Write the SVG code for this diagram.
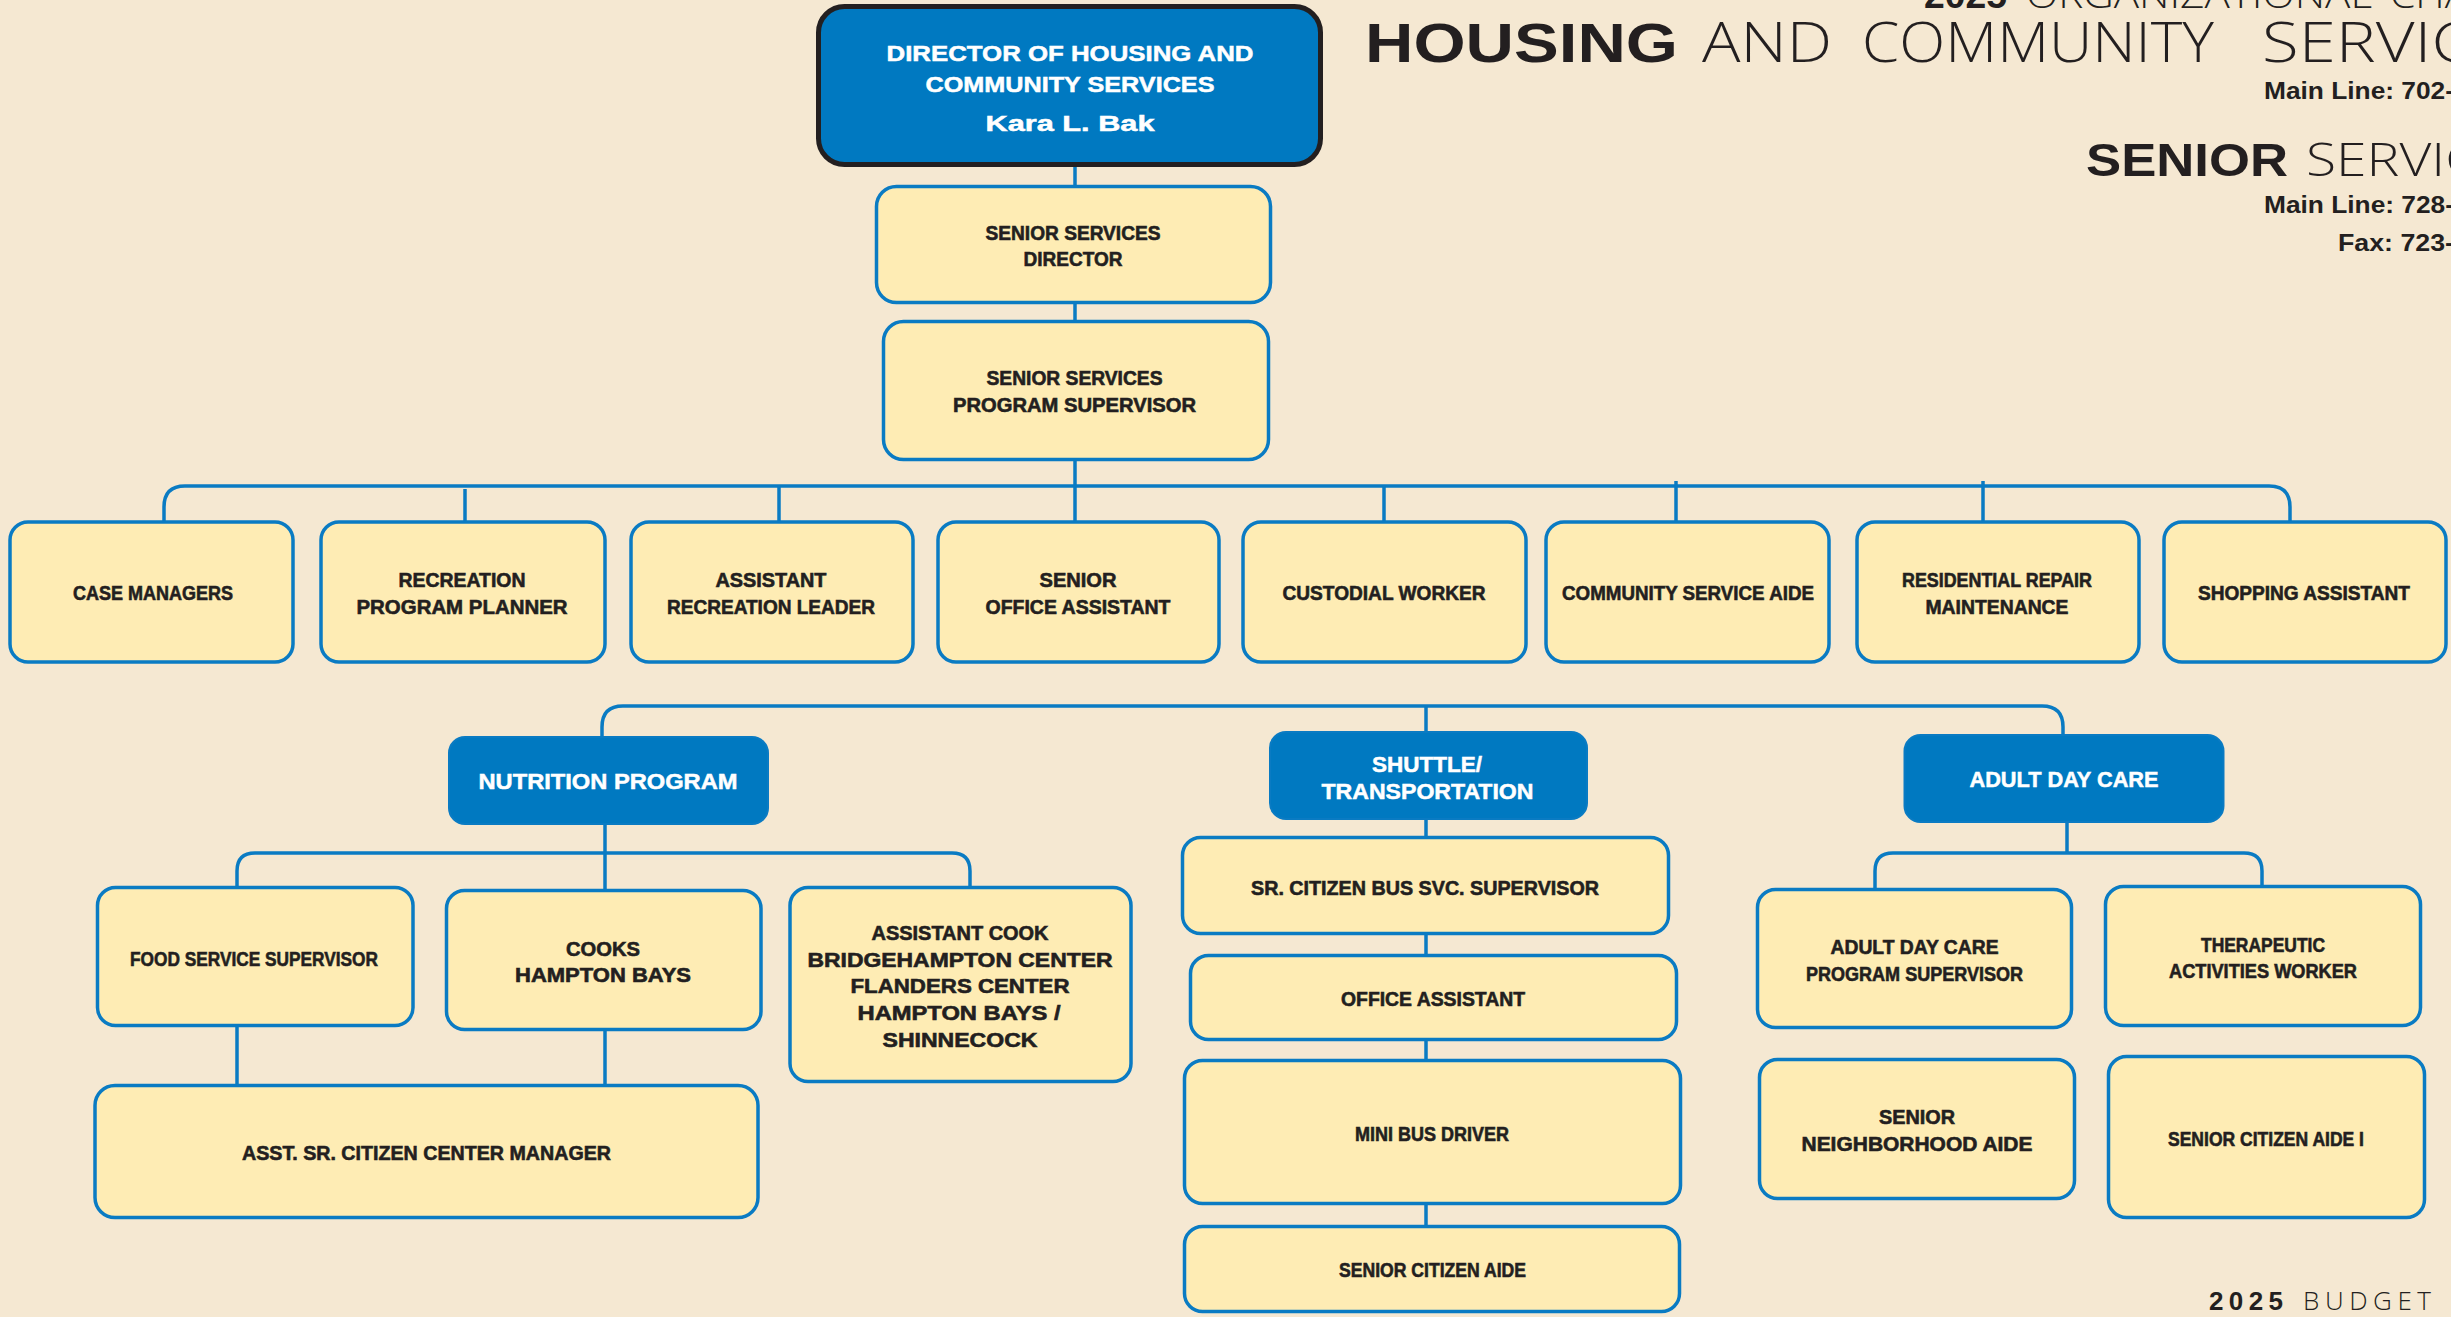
<svg xmlns="http://www.w3.org/2000/svg" width="2451" height="1317" viewBox="0 0 2451 1317">
  <defs>
    <style>
      .bg { fill: #f5e8d2; }
      .box { fill: #feecb4; stroke: #0a7bc3; stroke-width: 3.5; }
      .blue { fill: #0079c1; stroke: #0a7bc3; stroke-width: 2; }
      .top { fill: #0079c1; stroke: #231f20; stroke-width: 5; }
      .conn { fill: none; stroke: #0a7bc3; stroke-width: 3.5; }
      .lbl { font-family: "Liberation Sans", Arial, sans-serif; font-weight: 700; font-size: 20px; fill: #231f20; stroke: #231f20; stroke-width: 0.6; text-anchor: middle; }
      .wlbl { font-family: "Liberation Sans", Arial, sans-serif; font-weight: 700; font-size: 22px; fill: #ffffff; stroke: #ffffff; stroke-width: 0.5; text-anchor: middle; }
      .hb { font-family: "Liberation Sans", Arial, sans-serif; font-weight: 700; fill: #231f20; }
      .hl { font-family: "Open Sans", "Lato", "Liberation Sans", sans-serif; font-weight: 300; fill: #231f20; }
    </style>
  </defs>

  <rect class="bg" x="0" y="0" width="2451" height="1317"/>

  <!-- page heading (runs past the right edge) -->
  <g id="heading">
    <text class="hb" x="1924" y="8" font-size="36" textLength="83" lengthAdjust="spacingAndGlyphs">2025</text>
    <text class="hl" x="2026" y="8" font-size="36" textLength="346" lengthAdjust="spacingAndGlyphs">ORGANIZATIONAL</text>
    <text class="hl" x="2390" y="8" font-size="36" textLength="125" lengthAdjust="spacingAndGlyphs">CHART</text>

    <text class="hb" x="1365" y="62" font-size="56" textLength="313" lengthAdjust="spacingAndGlyphs">HOUSING</text>
    <text class="hl" x="1702" y="62" font-size="56" textLength="130" lengthAdjust="spacingAndGlyphs">AND</text>
    <text class="hl" x="1862" y="62" font-size="56" textLength="352" lengthAdjust="spacingAndGlyphs">COMMUNITY</text>
    <text class="hl" x="2262" y="62" font-size="56" textLength="285" lengthAdjust="spacingAndGlyphs">SERVICES</text>
    <text class="hb" x="2264" y="99" font-size="24" textLength="190" lengthAdjust="spacingAndGlyphs">Main Line: 702-</text>

    <text class="hb" x="2086" y="176" font-size="46" textLength="202" lengthAdjust="spacingAndGlyphs">SENIOR</text>
    <text class="hl" x="2306" y="176" font-size="46" textLength="234" lengthAdjust="spacingAndGlyphs">SERVICES</text>
    <text class="hb" x="2264" y="213" font-size="24" textLength="190" lengthAdjust="spacingAndGlyphs">Main Line: 728-</text>
    <text class="hb" x="2338" y="251" font-size="24" textLength="116" lengthAdjust="spacingAndGlyphs">Fax: 723-</text>
  </g>

  <g id="footer">
    <text class="hb" x="2209" y="1310" font-size="26" textLength="74" lengthAdjust="spacing">2025</text>
    <text class="hl" x="2303" y="1310" font-size="26" textLength="128" lengthAdjust="spacing">BUDGET</text>
  </g>

  <!-- connectors -->
  <g id="connectors">
    <path class="conn" d="M1075,167 V186 M1075,304 V321 M1075,461 V521"/>
    <path class="conn" d="M164,521 V507 Q164,486 185,486 H2269 Q2290,486 2290,507 V521"/>
    <path class="conn" d="M465,489 V521 M779,486 V521 M1384,486 V521 M1676,481 V521 M1983,481 V521"/>

    <path class="conn" d="M602,736 V727 Q602,706 623,706 H2042 Q2063,706 2063,727 V734"/>
    <path class="conn" d="M1426,706 V731"/>

    <path class="conn" d="M605,825 V889"/>
    <path class="conn" d="M237,887 V871 Q237,853 255,853 H952 Q970,853 970,871 V887"/>
    <path class="conn" d="M237,1027 V1085 M605,1031 V1085"/>

    <path class="conn" d="M1426,820 V837 M1426,935 V955 M1426,1041 V1060 M1426,1205 V1226"/>

    <path class="conn" d="M2067,823 V853"/>
    <path class="conn" d="M1875,889 V871 Q1875,853 1893,853 H2244 Q2262,853 2262,871 V886"/>
  </g>

  <!-- director -->
  <g id="director">
    <rect class="top" x="818.5" y="6.5" width="502" height="158" rx="26"/>
    <text class="wlbl" x="1070" y="61" font-size="25" textLength="367" lengthAdjust="spacingAndGlyphs">DIRECTOR OF HOUSING AND</text>
    <text class="wlbl" x="1070" y="92" font-size="25" textLength="289" lengthAdjust="spacingAndGlyphs">COMMUNITY SERVICES</text>
    <text class="wlbl" x="1070" y="131" font-size="28" textLength="169" lengthAdjust="spacingAndGlyphs">Kara L. Bak</text>
  </g>

  <g id="senior-services-director">
    <rect class="box" x="876.5" y="186.5" width="394" height="116" rx="20"/>
    <text class="lbl" x="1073" y="240" textLength="175" lengthAdjust="spacingAndGlyphs">SENIOR SERVICES</text>
    <text class="lbl" x="1073" y="266" textLength="99" lengthAdjust="spacingAndGlyphs">DIRECTOR</text>
  </g>

  <g id="program-supervisor">
    <rect class="box" x="883.5" y="321.5" width="385" height="138" rx="20"/>
    <text class="lbl" x="1074.5" y="385" textLength="176" lengthAdjust="spacingAndGlyphs">SENIOR SERVICES</text>
    <text class="lbl" x="1074.5" y="412" textLength="243" lengthAdjust="spacingAndGlyphs">PROGRAM SUPERVISOR</text>
  </g>

  <!-- staff row -->
  <g id="case-managers">
    <rect class="box" x="10" y="522" width="283" height="140" rx="18"/>
    <text class="lbl" x="153" y="600" textLength="160" lengthAdjust="spacingAndGlyphs">CASE MANAGERS</text>
  </g>
  <g id="recreation-planner">
    <rect class="box" x="321" y="522" width="284" height="140" rx="18"/>
    <text class="lbl" x="462" y="587" textLength="127" lengthAdjust="spacingAndGlyphs">RECREATION</text>
    <text class="lbl" x="462" y="614" textLength="211" lengthAdjust="spacingAndGlyphs">PROGRAM PLANNER</text>
  </g>
  <g id="assistant-recreation-leader">
    <rect class="box" x="631" y="522" width="282" height="140" rx="18"/>
    <text class="lbl" x="771" y="587" textLength="111" lengthAdjust="spacingAndGlyphs">ASSISTANT</text>
    <text class="lbl" x="771" y="614" textLength="208" lengthAdjust="spacingAndGlyphs">RECREATION LEADER</text>
  </g>
  <g id="senior-office-assistant">
    <rect class="box" x="938" y="522" width="281" height="140" rx="18"/>
    <text class="lbl" x="1078" y="587" textLength="77" lengthAdjust="spacingAndGlyphs">SENIOR</text>
    <text class="lbl" x="1078" y="614" textLength="185" lengthAdjust="spacingAndGlyphs">OFFICE ASSISTANT</text>
  </g>
  <g id="custodial-worker">
    <rect class="box" x="1243" y="522" width="283" height="140" rx="18"/>
    <text class="lbl" x="1384" y="600" textLength="203" lengthAdjust="spacingAndGlyphs">CUSTODIAL WORKER</text>
  </g>
  <g id="community-service-aide">
    <rect class="box" x="1546" y="522" width="283" height="140" rx="18"/>
    <text class="lbl" x="1688" y="600" textLength="252" lengthAdjust="spacingAndGlyphs">COMMUNITY SERVICE AIDE</text>
  </g>
  <g id="residential-repair">
    <rect class="box" x="1857" y="522" width="282" height="140" rx="18"/>
    <text class="lbl" x="1997" y="587" textLength="190" lengthAdjust="spacingAndGlyphs">RESIDENTIAL REPAIR</text>
    <text class="lbl" x="1997" y="614" textLength="143" lengthAdjust="spacingAndGlyphs">MAINTENANCE</text>
  </g>
  <g id="shopping-assistant">
    <rect class="box" x="2164" y="522" width="282" height="140" rx="18"/>
    <text class="lbl" x="2304" y="600" textLength="212" lengthAdjust="spacingAndGlyphs">SHOPPING ASSISTANT</text>
  </g>

  <!-- nutrition program -->
  <g id="nutrition-program">
    <rect class="blue" x="449" y="737" width="319" height="87" rx="16"/>
    <text class="wlbl" x="608" y="789" textLength="259" lengthAdjust="spacingAndGlyphs">NUTRITION PROGRAM</text>
  </g>
  <g id="food-service-supervisor">
    <rect class="box" x="97.5" y="887.5" width="315.5" height="138" rx="18"/>
    <text class="lbl" x="254" y="966" textLength="248" lengthAdjust="spacingAndGlyphs">FOOD SERVICE SUPERVISOR</text>
  </g>
  <g id="cooks">
    <rect class="box" x="446.5" y="890.5" width="314.5" height="139" rx="18"/>
    <text class="lbl" x="603" y="956" textLength="74" lengthAdjust="spacingAndGlyphs">COOKS</text>
    <text class="lbl" x="603" y="982" textLength="176" lengthAdjust="spacingAndGlyphs">HAMPTON BAYS</text>
  </g>
  <g id="assistant-cook">
    <rect class="box" x="790" y="887.5" width="341" height="194" rx="18"/>
    <text class="lbl" x="960" y="940" font-size="21" textLength="177" lengthAdjust="spacingAndGlyphs">ASSISTANT COOK</text>
    <text class="lbl" x="960" y="967" font-size="21" textLength="305" lengthAdjust="spacingAndGlyphs">BRIDGEHAMPTON CENTER</text>
    <text class="lbl" x="960" y="993" font-size="21" textLength="219" lengthAdjust="spacingAndGlyphs">FLANDERS CENTER</text>
    <text class="lbl" x="959" y="1020" font-size="21" textLength="203" lengthAdjust="spacingAndGlyphs">HAMPTON BAYS /</text>
    <text class="lbl" x="960" y="1047" font-size="21" textLength="155" lengthAdjust="spacingAndGlyphs">SHINNECOCK</text>
  </g>
  <g id="asst-center-manager">
    <rect class="box" x="95" y="1085.5" width="663" height="132" rx="20"/>
    <text class="lbl" x="426.5" y="1160" textLength="369" lengthAdjust="spacingAndGlyphs">ASST. SR. CITIZEN CENTER MANAGER</text>
  </g>

  <!-- shuttle / transportation -->
  <g id="shuttle-transportation">
    <rect class="blue" x="1270" y="732" width="317" height="87" rx="16"/>
    <text class="wlbl" x="1427" y="772" textLength="110" lengthAdjust="spacingAndGlyphs">SHUTTLE/</text>
    <text class="wlbl" x="1427.5" y="799" textLength="212" lengthAdjust="spacingAndGlyphs">TRANSPORTATION</text>
  </g>
  <g id="bus-service-supervisor">
    <rect class="box" x="1182.5" y="837.5" width="486" height="96" rx="18"/>
    <text class="lbl" x="1425" y="895" textLength="348" lengthAdjust="spacingAndGlyphs">SR. CITIZEN BUS SVC. SUPERVISOR</text>
  </g>
  <g id="office-assistant">
    <rect class="box" x="1190.5" y="955.5" width="486" height="84" rx="18"/>
    <text class="lbl" x="1433" y="1006" textLength="184" lengthAdjust="spacingAndGlyphs">OFFICE ASSISTANT</text>
  </g>
  <g id="mini-bus-driver">
    <rect class="box" x="1184.5" y="1060.5" width="496" height="143" rx="18"/>
    <text class="lbl" x="1432" y="1141" textLength="154" lengthAdjust="spacingAndGlyphs">MINI BUS DRIVER</text>
  </g>
  <g id="senior-citizen-aide">
    <rect class="box" x="1184.5" y="1226.5" width="495" height="85" rx="18"/>
    <text class="lbl" x="1432.5" y="1277" textLength="187" lengthAdjust="spacingAndGlyphs">SENIOR CITIZEN AIDE</text>
  </g>

  <!-- adult day care -->
  <g id="adult-day-care">
    <rect class="blue" x="1904.5" y="735" width="319" height="87" rx="16"/>
    <text class="wlbl" x="2064" y="787" textLength="189" lengthAdjust="spacingAndGlyphs">ADULT DAY CARE</text>
  </g>
  <g id="adc-program-supervisor">
    <rect class="box" x="1757.5" y="889.5" width="314" height="138" rx="18"/>
    <text class="lbl" x="1914.5" y="954" textLength="168" lengthAdjust="spacingAndGlyphs">ADULT DAY CARE</text>
    <text class="lbl" x="1914.5" y="981" textLength="217" lengthAdjust="spacingAndGlyphs">PROGRAM SUPERVISOR</text>
  </g>
  <g id="therapeutic-activities-worker">
    <rect class="box" x="2105.5" y="886.5" width="315" height="139" rx="18"/>
    <text class="lbl" x="2263" y="952" textLength="124" lengthAdjust="spacingAndGlyphs">THERAPEUTIC</text>
    <text class="lbl" x="2263" y="978" textLength="188" lengthAdjust="spacingAndGlyphs">ACTIVITIES WORKER</text>
  </g>
  <g id="senior-neighborhood-aide">
    <rect class="box" x="1759.5" y="1059.5" width="315" height="139" rx="18"/>
    <text class="lbl" x="1917" y="1124" textLength="76" lengthAdjust="spacingAndGlyphs">SENIOR</text>
    <text class="lbl" x="1917" y="1151" textLength="231" lengthAdjust="spacingAndGlyphs">NEIGHBORHOOD AIDE</text>
  </g>
  <g id="senior-citizen-aide-1">
    <rect class="box" x="2108.5" y="1056.5" width="316" height="161" rx="18"/>
    <text class="lbl" x="2266" y="1146" textLength="196" lengthAdjust="spacingAndGlyphs">SENIOR CITIZEN AIDE I</text>
  </g>
</svg>
